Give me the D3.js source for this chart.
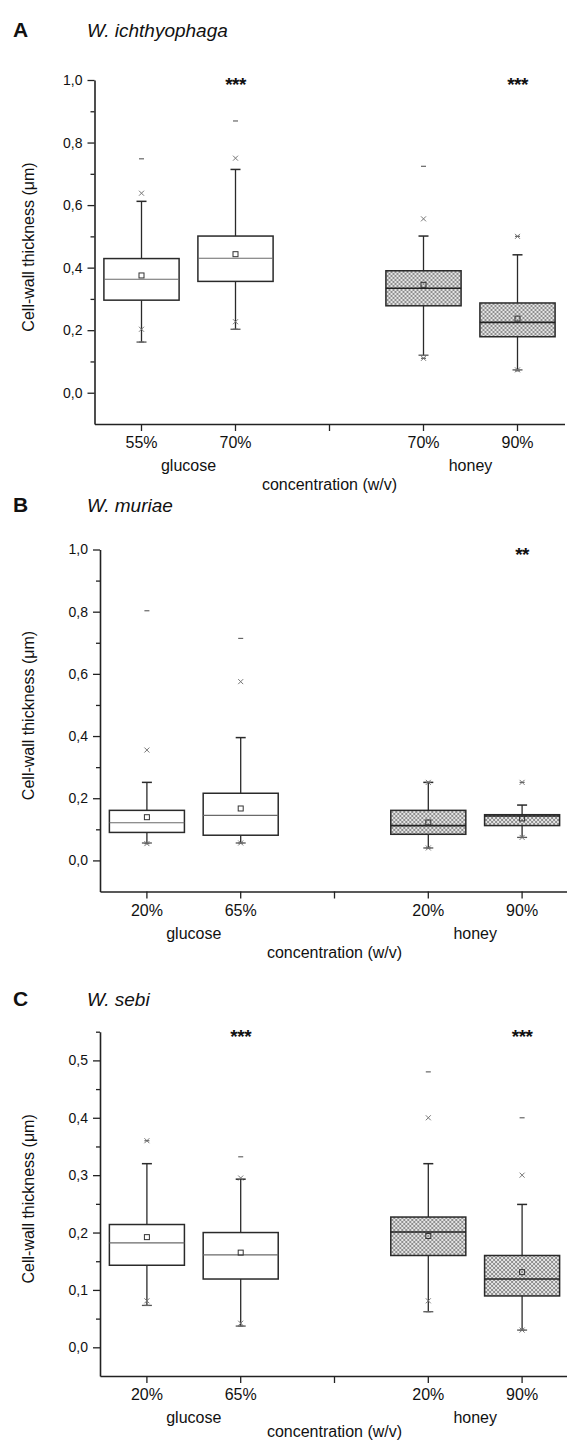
<!DOCTYPE html>
<html>
<head>
<meta charset="utf-8">
<script src="https://cdn.jsdelivr.net/npm/d3@7"></script>
<style>
  body { margin: 0; background: #fff; }
  svg { display: block; }
  text { font-family: "Liberation Sans", Arial, sans-serif; fill: #111; }
</style>
</head>
<body>
<div id="chart"></div>
<script>
// every box row: min, 1%, whisker low, Q1, median, mean, Q3, whisker high, 99%, max
const statKeys = ["min", "p1", "lo", "q1", "med", "mean", "q3", "hi", "p99", "max"];
const groups = ["glucose", "honey"];
const yTitle = "Cell-wall thickness (\u03bcm)";
const xTitle = "concentration (w/v)";

const speciesA = "W. ichthyophaga";
const ticksA = ["55%", "70%", "70%", "90%"];
const starsA = ["", "***", "", "***"];
const boxesA = [
  [0.162, 0.203, 0.162, 0.296, 0.363, 0.375, 0.429, 0.612, 0.638, 0.748],
  [0.203, 0.227, 0.203, 0.356, 0.430, 0.443, 0.501, 0.714, 0.750, 0.869],
  [0.110, 0.110, 0.120, 0.278, 0.334, 0.345, 0.390, 0.501, 0.556, 0.724],
  [0.070, 0.073, 0.073, 0.179, 0.225, 0.237, 0.287, 0.441, 0.500, 0.500]
];

const speciesB = "W. muriae";
const ticksB = ["20%", "65%", "20%", "90%"];
const starsB = ["", "", "", "**"];
const boxesB = [
  [0.054, 0.054, 0.056, 0.090, 0.121, 0.139, 0.161, 0.251, 0.355, 0.803],
  [0.056, 0.056, 0.056, 0.081, 0.145, 0.167, 0.216, 0.395, 0.575, 0.714],
  [0.040, 0.040, 0.040, 0.084, 0.112, 0.122, 0.161, 0.251, 0.251, 0.251],
  [0.074, 0.074, 0.074, 0.112, 0.143, 0.135, 0.147, 0.178, 0.251, 0.251]
];

const speciesC = "W. sebi";
const ticksC = ["20%", "65%", "20%", "90%"];
const starsC = ["", "***", "", "***"];
const boxesC = [
  [0.073, 0.081, 0.073, 0.143, 0.182, 0.192, 0.214, 0.320, 0.360, 0.360],
  [0.037, 0.042, 0.037, 0.119, 0.161, 0.165, 0.200, 0.293, 0.295, 0.332],
  [0.062, 0.081, 0.062, 0.160, 0.201, 0.194, 0.227, 0.320, 0.400, 0.480],
  [0.030, 0.030, 0.030, 0.0895, 0.119, 0.131, 0.160, 0.249, 0.300, 0.400]
];

const fmt = d3.formatLocale({ decimal: ",", thousands: ".", grouping: [3], currency: ["", ""] }).format(".1f");

const svg = d3.select("#chart").append("svg")
  .attr("width", 567)
  .attr("height", 1442);

// crosshatch fill used for the honey boxes
const pat = svg.append("defs").append("pattern")
  .attr("id", "hatch")
  .attr("patternUnits", "userSpaceOnUse")
  .attr("width", 4).attr("height", 4);
pat.append("rect").attr("width", 4).attr("height", 4).attr("fill", "#e4e4e4");
pat.append("path").attr("d", "M0,0L4,4M4,0L0,4").attr("stroke", "#7a7a7a").attr("stroke-width", 0.8);

const panels = [
  { letter: "A", species: speciesA, ticks: ticksA, stars: starsA, boxes: boxesA,
    left: 94.5, right: 564.5, top: 80, bottom: 424, titleY: 37,
    domain: [-0.1, 1.0], major: d3.range(0, 1.0001, 0.2), minor: d3.range(0.1, 1.0, 0.2) },
  { letter: "B", species: speciesB, ticks: ticksB, stars: starsB, boxes: boxesB,
    left: 100, right: 569, top: 549.5, bottom: 891.5, titleY: 512,
    domain: [-0.1, 1.0], major: d3.range(0, 1.0001, 0.2), minor: d3.range(0.1, 1.0, 0.2) },
  { letter: "C", species: speciesC, ticks: ticksC, stars: starsC, boxes: boxesC,
    left: 100, right: 569, top: 1031.7, bottom: 1376, titleY: 1006,
    domain: [-0.05, 0.55], major: d3.range(0, 0.5001, 0.1), minor: d3.range(0.05, 0.56, 0.1) }
];

panels.forEach(p => drawPanel(p));

function drawPanel(p) {
  const g = svg.append("g");
  const slots = ["g0", "g1", "gap", "h0", "h1"];
  const x = d3.scaleBand().domain(slots).range([p.left, p.right]);
  const y = d3.scaleLinear().domain(p.domain).range([p.bottom, p.top]);
  const slotOf = i => i < 2 ? "g" + i : "h" + (i - 2);
  const labelOf = k => k === "gap" ? "" : p.ticks[slots.indexOf(k) > 2 ? slots.indexOf(k) - 1 : slots.indexOf(k)];

  // headings
  g.append("text").attr("x", 13).attr("y", p.titleY)
    .attr("font-size", 21).attr("font-weight", "bold").text(p.letter);
  g.append("text").attr("x", 87).attr("y", p.titleY)
    .attr("font-size", 19).attr("font-style", "italic").text(p.species);

  // y axis
  const yAxis = g.append("g").attr("transform", `translate(${p.left},0)`)
    .call(d3.axisLeft(y).tickValues(p.major).tickSize(7).tickSizeOuter(0).tickPadding(5).tickFormat(fmt));
  yAxis.selectAll("text").attr("font-size", 14).attr("font-family", null);
  g.append("g").attr("transform", `translate(${p.left},0)`)
    .call(d3.axisLeft(y).tickValues(p.minor).tickSize(4).tickFormat(""))
    .select(".domain").remove();

  // x axis
  const xAxis = g.append("g").attr("transform", `translate(0,${p.bottom})`)
    .call(d3.axisBottom(x).tickSize(7).tickSizeOuter(0).tickPadding(6).tickFormat(labelOf));
  xAxis.selectAll("text").attr("font-size", 16).attr("font-family", null);

  g.selectAll(".domain").attr("stroke", "#222").attr("stroke-width", 1.6);
  g.selectAll(".tick line").attr("stroke", "#222").attr("stroke-width", 1.3);

  // axis titles
  groups.forEach((name, gi) => {
    const cx = (x(gi === 0 ? "g0" : "h0") + x(gi === 0 ? "g1" : "h1")) / 2 + x.bandwidth() / 2;
    g.append("text").attr("x", cx).attr("y", p.bottom + 47)
      .attr("text-anchor", "middle").attr("font-size", 16).text(name);
  });
  g.append("text").attr("x", (p.left + p.right) / 2).attr("y", Math.min(p.bottom + 66, 1437))
    .attr("text-anchor", "middle").attr("font-size", 16).text(xTitle);
  g.append("text")
    .attr("transform", `translate(34,${(p.top + p.bottom) / 2 - 5}) rotate(-90)`)
    .attr("text-anchor", "middle").attr("font-size", 16).text(yTitle);

  // boxes
  const rows = p.boxes.map((r, i) => {
    const o = {};
    statKeys.forEach((k, j) => o[k] = r[j]);
    o.slot = slotOf(i);
    o.honey = i >= 2;
    o.star = p.stars[i];
    return o;
  });
  const bw = x.bandwidth() * 0.8;
  const box = g.selectAll(".box").data(rows).enter().append("g")
    .attr("class", "box")
    .attr("transform", d => `translate(${x(d.slot) + x.bandwidth() / 2},0)`);

  box.append("line")
    .attr("y1", d => y(d.lo)).attr("y2", d => y(d.q1))
    .attr("stroke", "#2a2a2a").attr("stroke-width", 1.3);
  box.append("line")
    .attr("y1", d => y(d.q3)).attr("y2", d => y(d.hi))
    .attr("stroke", "#2a2a2a").attr("stroke-width", 1.3);
  box.append("line")
    .attr("x1", -5).attr("x2", 5)
    .attr("y1", d => y(d.hi)).attr("y2", d => y(d.hi))
    .attr("stroke", "#2a2a2a").attr("stroke-width", 1.5);
  box.append("line")
    .attr("x1", -5).attr("x2", 5)
    .attr("y1", d => y(d.lo)).attr("y2", d => y(d.lo))
    .attr("stroke", "#555").attr("stroke-width", 1.3);

  box.append("rect")
    .attr("x", -bw / 2).attr("width", bw)
    .attr("y", d => y(d.q3)).attr("height", d => y(d.q1) - y(d.q3))
    .attr("fill", d => d.honey ? "url(#hatch)" : "#fff")
    .attr("stroke", "#2a2a2a").attr("stroke-width", 1.5);
  box.append("line")
    .attr("x1", -bw / 2).attr("x2", bw / 2)
    .attr("y1", d => y(d.med)).attr("y2", d => y(d.med))
    .attr("stroke", d => d.honey ? "#222" : "#6a6a6a")
    .attr("stroke-width", d => d.honey ? 1.6 : 1.1);

  // mean
  box.append("rect")
    .attr("x", -2.5).attr("width", 5)
    .attr("y", d => y(d.mean) - 2.5).attr("height", 5)
    .attr("fill", "none").attr("stroke", "#333").attr("stroke-width", 1);

  // 1% and 99% crosses
  ["p1", "p99"].forEach(k => {
    box.append("path")
      .attr("d", d => { const c = y(d[k]); return `M-2.5,${c - 2.5}L2.5,${c + 2.5}M2.5,${c - 2.5}L-2.5,${c + 2.5}`; })
      .attr("stroke", "#777").attr("stroke-width", 1);
  });
  // min and max dashes
  ["min", "max"].forEach(k => {
    box.append("line")
      .attr("x1", -2.5).attr("x2", 2.5)
      .attr("y1", d => y(d[k])).attr("y2", d => y(d[k]))
      .attr("stroke", "#666").attr("stroke-width", 1.2);
  });

  // significance stars
  box.append("text")
    .attr("text-anchor", "middle")
    .attr("y", y(p.domain[1]) + 11)
    .attr("font-size", 19).attr("font-weight", "bold")
    .attr("letter-spacing", -0.5)
    .text(d => d.star);
}
</script>
</body>
</html>
